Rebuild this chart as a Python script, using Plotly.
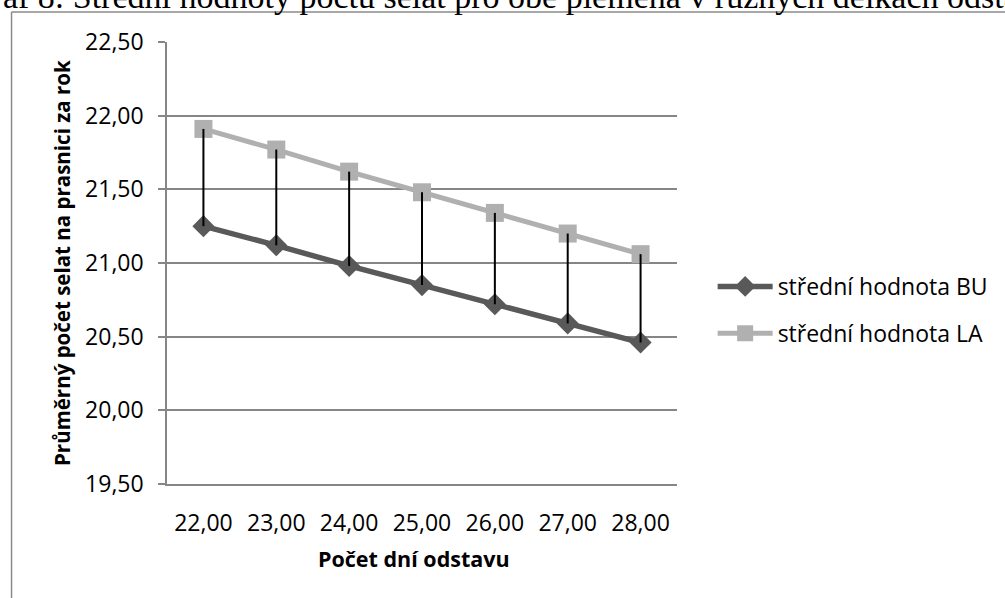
import plotly.graph_objects as go

# ---- data ----
categories = ["22,00", "23,00", "24,00", "25,00", "26,00", "27,00", "28,00"]
bu_values = [21.25, 21.12, 20.98, 20.85, 20.72, 20.59, 20.46]
la_values = [21.91, 21.77, 21.62, 21.48, 21.34, 21.20, 21.06]
series_names = ["střední hodnota BU", "střední hodnota LA"]
y_ticks = [19.5, 20.0, 20.5, 21.0, 21.5, 22.0, 22.5]
y_title = "Průměrný počet selat na prasnici za rok"
x_title = "Počet dní odstavu"
doc_title = "Graf 8: Střední hodnoty počtu selat pro obě plemena v různých délkách odstavu"

W, H = 1005, 598
L, R, T, B = 167, 682, 42, 484  # plot area in pixels


def px(x):
    return (x - L) / (R - L)


def py(y):
    return (B - y) / (B - T)


FONT = "Open Sans"

fig = go.Figure()

fig.add_trace(go.Scatter(
    x=categories, y=bu_values, name=series_names[0], mode="lines+markers",
    line=dict(color="#595959", width=5.5),
    marker=dict(symbol="diamond", size=17, color="#595959"),
    legendgroup="a",
))
fig.add_trace(go.Scatter(
    x=categories, y=la_values, name=series_names[1], mode="lines+markers",
    line=dict(color="#b0b0b0", width=5),
    marker=dict(symbol="square", size=18, color="#b0b0b0"),
    legendgroup="b",
))

# high-low lines
hx, hy = [], []
for c, lo, hi in zip(categories, bu_values, la_values):
    hx += [c, c, None]
    hy += [hi, lo, None]
fig.add_trace(go.Scatter(
    x=hx, y=hy, mode="lines", line=dict(color="black", width=2),
    showlegend=False, hoverinfo="skip",
))

fig.update_layout(
    width=W, height=H,
    margin=dict(l=L, r=W - R, t=T, b=H - B, pad=0),
    paper_bgcolor="white", plot_bgcolor="white",
    separators=",.",
    font=dict(family=FONT, size=23, color="black"),
    showlegend=True,
    legend=dict(
        x=px(718), y=py(265), xanchor="left", yanchor="top",
        font=dict(family=FONT, size=23, color="black"),
        itemwidth=55, tracegroupgap=14, traceorder="grouped",
        bgcolor="rgba(0,0,0,0)",
    ),
)

fig.update_xaxes(
    type="category", range=[-0.5, 6.5],
    showgrid=False, showline=True, linecolor="#868686", linewidth=1.5,
    ticks="", ticklabelstandoff=18,
    tickfont=dict(family=FONT, size=23, color="black"),
    zeroline=False,
)
fig.update_yaxes(
    range=[19.5, 22.5], tickvals=y_ticks, tickformat=".2f",
    showgrid=True, gridcolor="#868686", gridwidth=1.5,
    showline=True, linecolor="#868686", linewidth=1.5,
    ticks="outside", ticklen=7, tickcolor="#868686", tickwidth=1.5,
    ticklabelstandoff=10,
    tickfont=dict(family=FONT, size=23, color="black"),
    zeroline=False,
)

annotations = [
    dict(text="<b>" + y_title + "</b>", x=px(61), y=py(263), xref="paper", yref="paper",
         textangle=-90, showarrow=False, font=dict(family=FONT, size=20.5, color="black"),
         xanchor="center", yanchor="middle"),
    dict(text="<b>" + x_title + "</b>", x=px(416), y=py(558), xref="paper", yref="paper",
         showarrow=False, font=dict(family=FONT, size=21.5, color="black"),
         xanchor="center", yanchor="middle"),
    dict(text=doc_title, x=px(-36), y=py(16), xref="paper", yref="paper",
         showarrow=False, font=dict(family="Liberation Serif", size=34, color="black"),
         xanchor="left", yanchor="bottom", borderpad=0),
]
fig.update_layout(annotations=annotations)

# chart-area frame (left and top edges visible)
frame = dict(color="#8a8a8a", width=1.5)
fig.add_shape(type="line", xref="paper", yref="paper",
              x0=px(10), x1=px(1100), y0=py(12), y1=py(12), line=frame)
fig.add_shape(type="line", xref="paper", yref="paper",
              x0=px(10), x1=px(10), y0=py(12), y1=py(700), line=frame)

fig.write_html("out.html")
